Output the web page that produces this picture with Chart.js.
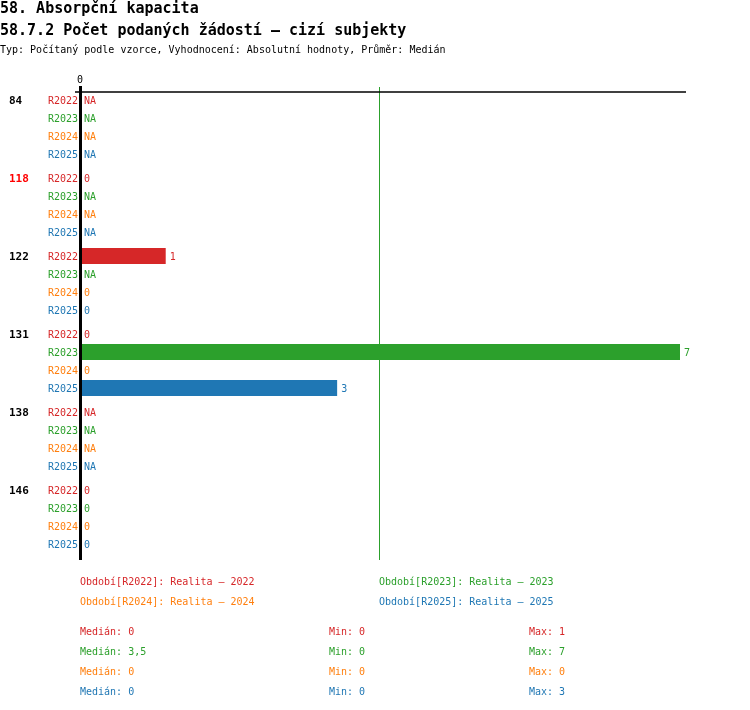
<!DOCTYPE html>
<html>
<head>
<meta charset="utf-8">
<script src="https://cdn.jsdelivr.net/npm/chart.js@4/dist/chart.umd.min.js"></script>
<style>
  body { margin: 0; background: #fff; font-family: "DejaVu Sans Mono", "Liberation Mono", monospace; }
  #wrap { position: relative; width: 750px; height: 710px; }
  #graf { position: absolute; left: 0; top: 0; }
  .t { position: absolute; white-space: pre; line-height: 12px; font-size: 10px; }
  .h1 { font-size: 15px; font-weight: bold; line-height: 16px; left: 0; }
</style>
</head>
<body>
<div id="wrap">
  <canvas id="graf" width="750" height="710"></canvas>
  <div class="t h1" style="top:0">58. Absorpční kapacita</div>
  <div class="t h1" style="top:22px">58.7.2 Počet podaných žádostí – cizí subjekty</div>
  <div class="t" style="top:44px;left:0">Typ: Počítaný podle vzorce, Vyhodnocení: Absolutní hodnoty, Průměr: Medián</div>
  <div id="legenda"></div>
</div>
<script>
// skupiny (řádky) a období
const groups = ['84', '118', '122', '131', '138', '146'];
const highlightedGroups = ['118'];
const seriesNames = ['R2022', 'R2023', 'R2024', 'R2025'];
const seriesTitles = ['Realita – 2022', 'Realita – 2023', 'Realita – 2024', 'Realita – 2025'];
const seriesColors = ['#d62728', '#2ca02c', '#ff7f0e', '#1f77b4'];

// hodnoty, null = NA
const r2022 = [null, 0, 1, 0, null, 0];
const r2023 = [null, null, null, 7, null, 0];
const r2024 = [null, null, 0, 0, null, 0];
const r2025 = [null, null, 0, 3, null, 0];
const seriesValues = [r2022, r2023, r2024, r2025];

const xMin = 0;
const xMax = 7;
const xTicks = [0];

const FONT = '"DejaVu Sans Mono", "Liberation Mono", monospace';

function median(arr) {
  const v = arr.filter(a => a !== null).sort((a, b) => a - b);
  if (!v.length) return null;
  const m = Math.floor(v.length / 2);
  return v.length % 2 ? v[m] : (v[m - 1] + v[m]) / 2;
}
const fmt = v => String(v).replace('.', ',');

const stats = seriesValues.map(vals => {
  const v = vals.filter(a => a !== null);
  return { med: median(vals), min: Math.min(...v), max: Math.max(...v) };
});

// legenda + statistiky pod grafem
const leg = document.getElementById('legenda');
let html = '';
seriesNames.forEach((name, i) => {
  const left = i % 2 ? 379 : 80;
  const top = 576 + Math.floor(i / 2) * 20;
  html += `<div class="t" style="left:${left}px;top:${top}px;color:${seriesColors[i]}">Období[${name}]: ${seriesTitles[i]}</div>`;
});
stats.forEach((s, i) => {
  const top = 626 + i * 20;
  const c = seriesColors[i];
  html += `<div class="t" style="left:80px;top:${top}px;color:${c}">Medián: ${fmt(s.med)}</div>`;
  html += `<div class="t" style="left:329px;top:${top}px;color:${c}">Min: ${fmt(s.min)}</div>`;
  html += `<div class="t" style="left:529px;top:${top}px;color:${c}">Max: ${fmt(s.max)}</div>`;
});
leg.innerHTML = html;

const labelsPlugin = {
  id: 'labelsPlugin',
  beforeDatasetsDraw(chart) {
    const { ctx, chartArea, scales: { x } } = chart;
    ctx.save();
    // medianove cary
    stats.forEach((s, i) => {
      if (s.med === null) return;
      const px = Math.round(x.getPixelForValue(s.med)) - 0.5;
      ctx.strokeStyle = seriesColors[i];
      ctx.lineWidth = 1;
      ctx.beginPath();
      ctx.moveTo(px, chartArea.top - 1);
      ctx.lineTo(px, chartArea.bottom + 4);
      ctx.stroke();
    });
    // horni cara
    ctx.strokeStyle = '#000';
    ctx.lineWidth = 1.5;
    ctx.beginPath();
    ctx.moveTo(chartArea.left - 5, chartArea.top + 4);
    ctx.lineTo(chartArea.right + 6, chartArea.top + 4);
    ctx.stroke();
    ctx.restore();
  },
  afterDatasetsDraw(chart) {
    const { ctx, chartArea, scales: { x } } = chart;
    ctx.save();
    // osa 0
    const x0 = x.getPixelForValue(0);
    ctx.fillStyle = '#000';
    ctx.fillRect(Math.round(x0) - 1, chartArea.top - 2, 3, chartArea.bottom - chartArea.top + 6);
    ctx.font = '10px ' + FONT;
    ctx.textAlign = 'center';
    ctx.textBaseline = 'middle';
    xTicks.forEach(t => ctx.fillText(String(t), x.getPixelForValue(t), chartArea.top - 8));

    seriesValues.forEach((vals, i) => {
      const meta = chart.getDatasetMeta(i);
      meta.data.forEach((bar, j) => {
        const y = bar.y;
        ctx.fillStyle = seriesColors[i];
        ctx.font = '10px ' + FONT;
        ctx.textAlign = 'right';
        ctx.fillText(seriesNames[i], x0 - 2, y + 1);
        ctx.textAlign = 'left';
        const v = vals[j];
        const txt = v === null ? 'NA' : fmt(v);
        const end = v === null ? x0 : x.getPixelForValue(v);
        ctx.fillText(txt, end + 4, y + 1);
        if (i === 0) {
          ctx.fillStyle = highlightedGroups.includes(groups[j]) ? '#ff0000' : '#000';
          ctx.font = 'bold 11px ' + FONT;
          ctx.fillText(groups[j], 9, y + 1);
        }
      });
    });
    ctx.restore();
  }
};

new Chart(document.getElementById('graf'), {
  type: 'bar',
  data: {
    labels: groups,
    datasets: seriesNames.map((name, i) => ({
      label: name,
      data: seriesValues[i],
      backgroundColor: seriesColors[i],
      borderWidth: 0,
      categoryPercentage: 72 / 78,
      barPercentage: 16 / 18
    }))
  },
  options: {
    indexAxis: 'y',
    responsive: false,
    animation: false,
    devicePixelRatio: 1,
    layout: { padding: { left: 80, top: 88, right: 70, bottom: 154 } },
    scales: {
      x: { display: false, min: xMin, max: xMax },
      y: { display: false }
    },
    plugins: {
      legend: { display: false },
      tooltip: { enabled: false }
    }
  },
  plugins: [labelsPlugin]
});
</script>
</body>
</html>
